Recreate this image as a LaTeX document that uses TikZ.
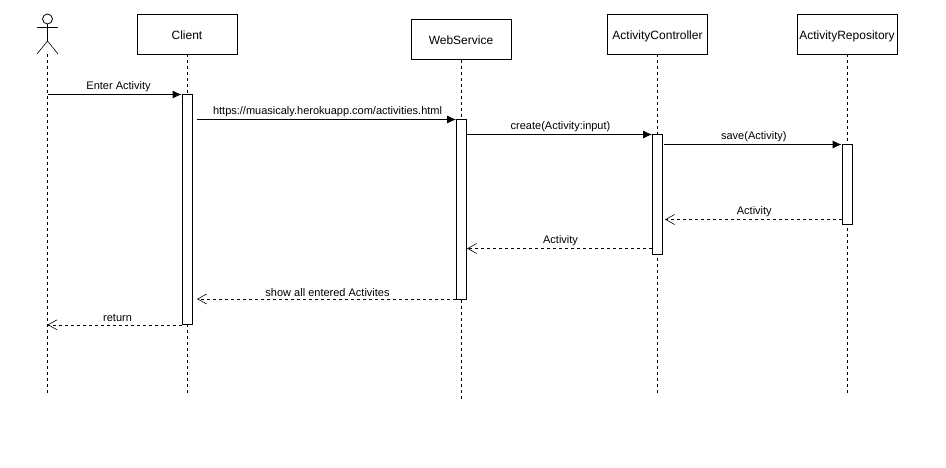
\documentclass[tikz,border=0pt]{standalone}
\usepackage{fontspec}
\setmainfont{Liberation Sans}
\usetikzlibrary{arrows.meta}
\tikzset{
  objbox/.style={draw,thick,fill=white,minimum width=100pt,minimum height=40pt,inner sep=0pt,text height=10.5pt,text depth=0pt,font=\fontsize{12}{14}\selectfont},
  actbar/.style={draw,thick,fill=white,minimum width=10pt,inner sep=0pt,anchor=north},
  lifeline/.style={dash pattern=on 3pt off 3pt,thick},
  callmsg/.style={thick,-{Latex[length=9pt,width=8pt]}},
  retmsg/.style={dash pattern=on 3pt off 3pt,semithick,-{Straight Barb[length=9pt,width=10pt,line width=0.6pt]}},
  msglabel/.style={above,inner sep=0pt,xshift=1pt,yshift=2.5pt,font=\fontsize{11}{13}\selectfont}
}
\begin{document}
\begin{tikzpicture}[x=1pt,y=-1pt]
\useasboundingbox (0,0) rectangle (946,468);
% boxes
\node[objbox] (client) at (187,34) {Client};
\node[objbox] (web) at (461,39.5) {WebService};
\node[objbox] (ctrl) at (657.5,34) {ActivityController};
\node[objbox] (repo) at (847,34) {ActivityRepository};
% actor
\node[draw,thick,circle,minimum size=10pt,inner sep=0pt] (head) at (47.5,19) {};
\coordinate (arml) at (37,27.5);
\coordinate (armr) at (58,27.5);
\coordinate (hip) at (47.5,41);
\coordinate (footl) at (37,54);
\coordinate (footr) at (58,54);
\draw[semithick] (head.south) -- (hip);
\draw[semithick] (arml) -- (armr);
\draw[semithick] (footl) -- (hip) -- (footr);
% lifelines
\coordinate (actorend) at (47.5,394);
\coordinate (clientend) at (187,394);
\coordinate (webend) at (461,399);
\coordinate (ctrlend) at (657.5,394);
\coordinate (repoend) at (847,394);
\draw[lifeline] (footl -| hip) -- (actorend);
\draw[lifeline] (client) -- (clientend);
\draw[lifeline] (web) -- (webend);
\draw[lifeline] (ctrl) -- (ctrlend);
\draw[lifeline] (repo) -- (repoend);
% activations
\node[actbar,minimum height=229.5pt] (clientbar) at (187,94.5) {};
\node[actbar,minimum height=179.5pt] (webbar) at (461.5,119.5) {};
\node[actbar,minimum height=119.5pt] (ctrlbar) at (657.5,134.5) {};
\node[actbar,minimum height=79.5pt] (repobar) at (847,144.5) {};
% free ends of the messages
\coordinate (urlstart) at (197,119.5);
\coordinate (savestart) at (664,144.5);
\coordinate (ctrlback) at (665,219.5);
\coordinate (webback) at (467,248.5);
\coordinate (clientback) at (197,299);
% messages
\draw[callmsg] (head |- clientbar.north) -- node[msglabel,xshift=3pt] {Enter Activity} (clientbar.north west);
\draw[callmsg] (urlstart) -- node[msglabel] {https://muasicaly.herokuapp.com/activities.html} (webbar.north west);
\draw[callmsg] (webbar.north east |- ctrlbar.north) -- node[msglabel] {create(Activity:input)} (ctrlbar.north west);
\draw[callmsg] (savestart) -- node[msglabel] {save(Activity)} (repobar.north west);
\draw[retmsg] (repobar.west |- ctrlback) -- node[msglabel] {Activity} (ctrlback);
\draw[retmsg] (ctrlbar.west |- webback) -- node[msglabel] {Activity} (webback);
\draw[retmsg] (webbar.south west |- clientback) -- node[msglabel] {show all entered Activites} (clientback);
\draw[retmsg] (clientbar.south west) -- node[msglabel,xshift=2pt] {return} (head |- clientbar.south);
\end{tikzpicture}
\end{document}
